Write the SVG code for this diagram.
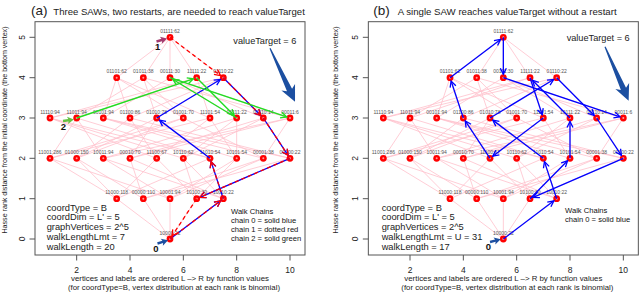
<svg xmlns="http://www.w3.org/2000/svg" xmlns:xlink="http://www.w3.org/1999/xlink" width="640" height="292" viewBox="0 0 640 292">
<style>
.edge{fill:none;stroke:#ffc0cb;stroke-width:0.8}
.vl{font-family:"Liberation Sans",Arial,sans-serif;font-size:5px;fill:#555;text-anchor:middle}
.box{fill:none;stroke:#555;stroke-width:1}
.tick{stroke:#555;stroke-width:1}
.t{font-family:"Liberation Sans",Arial,sans-serif;fill:#222}
.ax{font-size:8.5px;text-anchor:middle}
.info{font-size:9.3px}
.wc{font-size:7.6px;fill:#111}
.num{font-size:9.5px;font-weight:bold;fill:#111}
.blue{fill:none;stroke:#0000ff;stroke-width:1.3;marker-end:url(#mb)}
.red{fill:none;stroke:#ff0000;stroke-width:1.3;stroke-dasharray:4 3;marker-end:url(#mr)}
.green{fill:none;stroke:#22dd22;stroke-width:1.4;marker-end:url(#mg)}
</style>
<defs>
<marker id="mb" markerUnits="userSpaceOnUse" markerWidth="10" markerHeight="10" refX="6" refY="3" orient="auto" overflow="visible"><path d="M0,0L6,3L0,6" fill="none" stroke="#0000ff" stroke-width="1.3"/></marker>
<marker id="mr" markerUnits="userSpaceOnUse" markerWidth="10" markerHeight="10" refX="6" refY="3" orient="auto" overflow="visible"><path d="M0,0L6,3L0,6" fill="none" stroke="#ff0000" stroke-width="1.3"/></marker>
<marker id="mg" markerUnits="userSpaceOnUse" markerWidth="10" markerHeight="10" refX="6" refY="3" orient="auto" overflow="visible"><path d="M0,0L6,3L0,6" fill="none" stroke="#22dd22" stroke-width="1.4"/></marker>
<g id="dot"><circle r="3.4" fill="#ff0000"/><circle r="1" fill="#ff9a9a"/></g>
<path id="bigArrow" d="M0,-0.6L46,-2.8L43,-7.5L59,0L43,7.5L46,2.8L0,0.6Z" fill="#1c4fa1"/>
<path id="smallArrow" d="M0,-1.2L5.5,-1.2L4.5,-3.6L11,0L4.5,3.6L5.5,1.2L0,1.2Z"/>
<path id="hasse" class="edge" d="M170,239L116.67,198.7M170,239L143.33,198.7M170,239L170,198.7M170,239L196.67,198.7M170,239L223.33,198.7M116.67,198.7L76.67,158.3M116.67,198.7L156.67,158.3M116.67,198.7L210,158.3M116.67,198.7L50,158.3M143.33,198.7L76.67,158.3M143.33,198.7L290,158.3M143.33,198.7L130,158.3M143.33,198.7L263.33,158.3M170,198.7L263.33,158.3M170,198.7L50,158.3M170,198.7L236.67,158.3M170,198.7L103.33,158.3M196.67,198.7L290,158.3M196.67,198.7L156.67,158.3M196.67,198.7L183.33,158.3M196.67,198.7L236.67,158.3M223.33,198.7L130,158.3M223.33,198.7L210,158.3M223.33,198.7L183.33,158.3M223.33,198.7L103.33,158.3M76.67,158.3L130,118M76.67,158.3L156.67,118M76.67,158.3L183.33,118M290,158.3L130,118M290,158.3L263.33,118M290,158.3L103.33,118M130,158.3L156.67,118M130,158.3L263.33,118M130,158.3L290,118M263.33,158.3L183.33,118M263.33,158.3L103.33,118M263.33,158.3L290,118M156.67,158.3L130,118M156.67,158.3L50,118M156.67,158.3L210,118M210,158.3L156.67,118M210,158.3L50,118M210,158.3L76.67,118M50,158.3L183.33,118M50,158.3L210,118M50,158.3L76.67,118M183.33,158.3L263.33,118M183.33,158.3L50,118M183.33,158.3L236.67,118M236.67,158.3L103.33,118M236.67,158.3L210,118M236.67,158.3L236.67,118M103.33,158.3L290,118M103.33,158.3L76.67,118M103.33,158.3L236.67,118M223.33,77.7L130,118M223.33,77.7L156.67,118M223.33,77.7L263.33,118M223.33,77.7L50,118M116.67,77.7L130,118M116.67,77.7L183.33,118M116.67,77.7L103.33,118M116.67,77.7L210,118M143.33,77.7L156.67,118M143.33,77.7L183.33,118M143.33,77.7L290,118M143.33,77.7L76.67,118M170,77.7L263.33,118M170,77.7L103.33,118M170,77.7L290,118M170,77.7L236.67,118M196.67,77.7L50,118M196.67,77.7L210,118M196.67,77.7L76.67,118M196.67,77.7L236.67,118M170,37.3L116.67,77.7M170,37.3L143.33,77.7M170,37.3L170,77.7M170,37.3L196.67,77.7M170,37.3L223.33,77.7"/>
<g id="axes">
<rect class="box" x="35" y="21.7" width="270" height="233.3"/>
<path class="tick" d="M29.5,239H35M29.5,198.7H35M29.5,158.3H35M29.5,118H35M29.5,77.7H35M29.5,37.3H35M76.67,255V260.5M130,255V260.5M183.33,255V260.5M236.67,255V260.5M290,255V260.5"/>
<g class="t ax">
<text transform="translate(24.5,239) rotate(-90)">0</text>
<text transform="translate(24.5,198.7) rotate(-90)">1</text>
<text transform="translate(24.5,158.3) rotate(-90)">2</text>
<text transform="translate(24.5,118) rotate(-90)">3</text>
<text transform="translate(24.5,77.7) rotate(-90)">4</text>
<text transform="translate(24.5,37.3) rotate(-90)">5</text>
<text x="76.67" y="272.5">2</text>
<text x="130" y="272.5">4</text>
<text x="183.33" y="272.5">6</text>
<text x="236.67" y="272.5">8</text>
<text x="290" y="272.5">10</text>
<text x="170" y="281" font-size="7.5" textLength="198" lengthAdjust="spacingAndGlyphs">vertices and labels are ordered L –&gt; R by function values</text>
<text x="174" y="290" font-size="7.5" textLength="212" lengthAdjust="spacingAndGlyphs">(for coordType=B, vertex distribution at each rank is binomial)</text>
</g>
</g>
</defs>

<g id="panel-a">
<text class="t" x="31" y="15" font-size="13.5">(a)</text>
<text class="t" x="53.3" y="15" font-size="9.3" textLength="251.5" lengthAdjust="spacingAndGlyphs">Three SAWs, two restarts, are needed to reach valueTarget</text>
<text class="t" transform="translate(7,130) rotate(-90)" font-size="7" text-anchor="middle" textLength="207" lengthAdjust="spacingAndGlyphs">Hasse rank distance from the initial coordinate (the bottom vertex)</text>
<use href="#axes"/>
<g id="edges-a"><use href="#hasse"/></g>
<g id="nodes-a">
<g id="a-01111"><use href="#dot" x="170" y="37.3"/><text class="vl" x="170" y="32.8">01111:62</text></g>
<g id="a-01101"><use href="#dot" x="116.67" y="77.7"/><text class="vl" x="116.67" y="73.2">01101:62</text></g>
<g id="a-01011"><use href="#dot" x="143.33" y="77.7"/><text class="vl" x="143.33" y="73.2">01011:38</text></g>
<g id="a-00111"><use href="#dot" x="170" y="77.7"/><text class="vl" x="170" y="73.2">00111:30</text></g>
<g id="a-11111"><use href="#dot" x="196.67" y="77.7"/><text class="vl" x="196.67" y="73.2">11111:22</text></g>
<g id="a-01110"><use href="#dot" x="223.33" y="77.7"/><text class="vl" x="223.33" y="73.2">01110:22</text></g>
<g id="a-11110"><use href="#dot" x="50" y="118"/><text class="vl" x="50" y="113.5">11110:94</text></g>
<g id="a-11011"><use href="#dot" x="76.67" y="118"/><text class="vl" x="76.67" y="113.5">11011:94</text></g>
<g id="a-00101"><use href="#dot" x="103.33" y="118"/><text class="vl" x="103.33" y="113.5">00101:94</text></g>
<g id="a-01100"><use href="#dot" x="130" y="118"/><text class="vl" x="130" y="113.5">01100:86</text></g>
<g id="a-01010"><use href="#dot" x="156.67" y="118"/><text class="vl" x="156.67" y="113.5">01010:78</text></g>
<g id="a-01001"><use href="#dot" x="183.33" y="118"/><text class="vl" x="183.33" y="113.5">01001:70</text></g>
<g id="a-11101"><use href="#dot" x="210" y="118"/><text class="vl" x="210" y="113.5">11101:54</text></g>
<g id="a-10111"><use href="#dot" x="236.67" y="118"/><text class="vl" x="236.67" y="113.5">10111:22</text></g>
<g id="a-00110"><use href="#dot" x="263.33" y="118"/><text class="vl" x="263.33" y="113.5">00110:14</text></g>
<g id="a-00011"><use href="#dot" x="290" y="118"/><text class="vl" x="290" y="113.5">00011:6</text></g>
<g id="a-11001"><use href="#dot" x="50" y="158.3"/><text class="vl" x="50" y="153.8">11001:286</text></g>
<g id="a-01000"><use href="#dot" x="76.67" y="158.3"/><text class="vl" x="76.67" y="153.8">01000:150</text></g>
<g id="a-10011"><use href="#dot" x="103.33" y="158.3"/><text class="vl" x="103.33" y="153.8">10011:94</text></g>
<g id="a-00010"><use href="#dot" x="130" y="158.3"/><text class="vl" x="130" y="153.8">00010:70</text></g>
<g id="a-11100"><use href="#dot" x="156.67" y="158.3"/><text class="vl" x="156.67" y="153.8">11100:67</text></g>
<g id="a-10110"><use href="#dot" x="183.33" y="158.3"/><text class="vl" x="183.33" y="153.8">10110:62</text></g>
<g id="a-11010"><use href="#dot" x="210" y="158.3"/><text class="vl" x="210" y="153.8">11010:54</text></g>
<g id="a-10101"><use href="#dot" x="236.67" y="158.3"/><text class="vl" x="236.67" y="153.8">10101:54</text></g>
<g id="a-00001"><use href="#dot" x="263.33" y="158.3"/><text class="vl" x="263.33" y="153.8">00001:38</text></g>
<g id="a-00100"><use href="#dot" x="290" y="158.3"/><text class="vl" x="290" y="153.8">00100:22</text></g>
<g id="a-11000"><use href="#dot" x="116.67" y="198.7"/><text class="vl" x="116.67" y="194.2">11000:118</text></g>
<g id="a-00000"><use href="#dot" x="143.33" y="198.7"/><text class="vl" x="143.33" y="194.2">00000:110</text></g>
<g id="a-10001"><use href="#dot" x="170" y="198.7"/><text class="vl" x="170" y="194.2">10001:94</text></g>
<g id="a-10100"><use href="#dot" x="196.67" y="198.7"/><text class="vl" x="196.67" y="194.2">10100:30</text></g>
<g id="a-10010"><use href="#dot" x="223.33" y="198.7"/><text class="vl" x="223.33" y="194.2">10010:22</text></g>
<g id="a-10000"><use href="#dot" x="170" y="239"/><text class="vl" x="170" y="234.5">10000:22</text></g>
</g>
<g id="walks-a">
<path class="blue" d="M170,239L220.54,200.81"/>
<path class="blue" d="M223.33,198.7L211.1,161.62"/>
<path class="blue" d="M210,158.3L159.46,120.11"/>
<path class="blue" d="M156.67,118L220.33,79.51"/>
<path class="blue" d="M223.33,77.7L260.87,115.52"/>
<path class="blue" d="M263.33,118L288.07,155.38"/>
<path class="blue" d="M290,158.3L199.88,197.31"/>
<path class="red" d="M170,37.3L220.54,75.59"/>
<path class="red" d="M223.33,77.7L260.87,115.52"/>
<path class="red" d="M263.33,118L288.07,155.38"/>
<path class="red" d="M290,158.3L199.88,197.31"/>
<path class="red" d="M196.67,198.7L171.93,236.08"/>
<path class="red" d="M170,239L220.54,200.81"/>
<path class="red" d="M223.33,198.7L211.1,161.62"/>
<path class="green" d="M76.67,118L193.35,78.81"/>
<path class="green" d="M196.67,77.7L234.21,115.52"/>
<path class="green" d="M236.67,118L173,79.51"/>
<path class="green" d="M170,77.7L286.68,116.89"/>
</g>
<g id="notes-a">
<text class="t" x="233.3" y="43.5" font-size="9.2">valueTarget = 6</text>
<use href="#bigArrow" transform="translate(270,48.3) rotate(64.9)"/>
<use href="#smallArrow" fill="#a33a6e" transform="translate(156.5,41.5) rotate(-16)"/>
<text class="t num" x="157.7" y="50" text-anchor="middle">1</text>
<use href="#smallArrow" fill="#66c040" transform="translate(63,121) rotate(-8)"/>
<text class="t num" x="63.3" y="130" text-anchor="middle">2</text>
<use href="#smallArrow" fill="#1c4fa1" transform="translate(157.5,243.5) rotate(-17)"/>
<text class="t num" x="156" y="251.5" text-anchor="middle">0</text>
<g class="t info">
<text x="46.7" y="210.5">coordType = B</text>
<text x="46.7" y="220">coordDim = L' = 5</text>
<text x="46.7" y="229.7">graphVertices = 2^5</text>
<text x="46.7" y="240">walkLengthLmt = 7</text>
<text x="46.7" y="250.3">walkLength = 20</text>
</g>
<g class="t wc">
<text x="231" y="213.5">Walk Chains</text>
<text x="231" y="222.5">chain 0 = solid blue</text>
<text x="231" y="231.5">chain 1 = dotted red</text>
<text x="231" y="240.8">chain 2 = solid green</text>
</g>
</g>
</g>

<g id="panel-b" transform="translate(333.333,0)">
<text class="t" x="40" y="15" font-size="13.5">(b)</text>
<text class="t" x="64.3" y="15" font-size="9.3" textLength="219" lengthAdjust="spacingAndGlyphs">A single SAW reaches valueTarget without a restart</text>
<text class="t" transform="translate(5,130) rotate(-90)" font-size="7" text-anchor="middle" textLength="207" lengthAdjust="spacingAndGlyphs">Hasse rank distance from the initial coordinate (the bottom vertex)</text>
<use href="#axes"/>
<g id="edges-b"><use href="#hasse"/></g>
<g id="nodes-b">
<g id="b-01111"><use href="#dot" x="170" y="37.3"/><text class="vl" x="170" y="32.8">01111:62</text></g>
<g id="b-01101"><use href="#dot" x="116.67" y="77.7"/><text class="vl" x="116.67" y="73.2">01101:62</text></g>
<g id="b-01011"><use href="#dot" x="143.33" y="77.7"/><text class="vl" x="143.33" y="73.2">01011:38</text></g>
<g id="b-00111"><use href="#dot" x="170" y="77.7"/><text class="vl" x="170" y="73.2">00111:30</text></g>
<g id="b-11111"><use href="#dot" x="196.67" y="77.7"/><text class="vl" x="196.67" y="73.2">11111:22</text></g>
<g id="b-01110"><use href="#dot" x="223.33" y="77.7"/><text class="vl" x="223.33" y="73.2">01110:22</text></g>
<g id="b-11110"><use href="#dot" x="50" y="118"/><text class="vl" x="50" y="113.5">11110:94</text></g>
<g id="b-11011"><use href="#dot" x="76.67" y="118"/><text class="vl" x="76.67" y="113.5">11011:94</text></g>
<g id="b-00101"><use href="#dot" x="103.33" y="118"/><text class="vl" x="103.33" y="113.5">00101:94</text></g>
<g id="b-01100"><use href="#dot" x="130" y="118"/><text class="vl" x="130" y="113.5">01100:86</text></g>
<g id="b-01010"><use href="#dot" x="156.67" y="118"/><text class="vl" x="156.67" y="113.5">01010:78</text></g>
<g id="b-01001"><use href="#dot" x="183.33" y="118"/><text class="vl" x="183.33" y="113.5">01001:70</text></g>
<g id="b-11101"><use href="#dot" x="210" y="118"/><text class="vl" x="210" y="113.5">11101:54</text></g>
<g id="b-10111"><use href="#dot" x="236.67" y="118"/><text class="vl" x="236.67" y="113.5">10111:22</text></g>
<g id="b-00110"><use href="#dot" x="263.33" y="118"/><text class="vl" x="263.33" y="113.5">00110:14</text></g>
<g id="b-00011"><use href="#dot" x="290" y="118"/><text class="vl" x="290" y="113.5">00011:6</text></g>
<g id="b-11001"><use href="#dot" x="50" y="158.3"/><text class="vl" x="50" y="153.8">11001:286</text></g>
<g id="b-01000"><use href="#dot" x="76.67" y="158.3"/><text class="vl" x="76.67" y="153.8">01000:150</text></g>
<g id="b-10011"><use href="#dot" x="103.33" y="158.3"/><text class="vl" x="103.33" y="153.8">10011:94</text></g>
<g id="b-00010"><use href="#dot" x="130" y="158.3"/><text class="vl" x="130" y="153.8">00010:70</text></g>
<g id="b-11100"><use href="#dot" x="156.67" y="158.3"/><text class="vl" x="156.67" y="153.8">11100:67</text></g>
<g id="b-10110"><use href="#dot" x="183.33" y="158.3"/><text class="vl" x="183.33" y="153.8">10110:62</text></g>
<g id="b-11010"><use href="#dot" x="210" y="158.3"/><text class="vl" x="210" y="153.8">11010:54</text></g>
<g id="b-10101"><use href="#dot" x="236.67" y="158.3"/><text class="vl" x="236.67" y="153.8">10101:54</text></g>
<g id="b-00001"><use href="#dot" x="263.33" y="158.3"/><text class="vl" x="263.33" y="153.8">00001:38</text></g>
<g id="b-00100"><use href="#dot" x="290" y="158.3"/><text class="vl" x="290" y="153.8">00100:22</text></g>
<g id="b-11000"><use href="#dot" x="116.67" y="198.7"/><text class="vl" x="116.67" y="194.2">11000:118</text></g>
<g id="b-00000"><use href="#dot" x="143.33" y="198.7"/><text class="vl" x="143.33" y="194.2">00000:110</text></g>
<g id="b-10001"><use href="#dot" x="170" y="198.7"/><text class="vl" x="170" y="194.2">10001:94</text></g>
<g id="b-10100"><use href="#dot" x="196.67" y="198.7"/><text class="vl" x="196.67" y="194.2">10100:30</text></g>
<g id="b-10010"><use href="#dot" x="223.33" y="198.7"/><text class="vl" x="223.33" y="194.2">10010:22</text></g>
<g id="b-10000"><use href="#dot" x="170" y="239"/><text class="vl" x="170" y="234.5">10000:22</text></g>
</g>
<g id="walks-b">
<path class="blue" d="M170,239L220.54,200.81"/>
<path class="blue" d="M223.33,198.7L211.1,161.62"/>
<path class="blue" d="M210,158.3L159.46,120.11"/>
<path class="blue" d="M156.67,118L220.33,79.51"/>
<path class="blue" d="M223.33,77.7L260.87,115.52"/>
<path class="blue" d="M263.33,118L288.07,155.38"/>
<path class="blue" d="M290,158.3L199.88,197.31"/>
<path class="blue" d="M196.67,198.7L234.21,160.79"/>
<path class="blue" d="M236.67,158.3L236.67,121.5"/>
<path class="blue" d="M236.67,118L199.13,80.18"/>
<path class="blue" d="M196.67,77.7L208.9,114.68"/>
<path class="blue" d="M210,118L159.46,156.19"/>
<path class="blue" d="M156.67,158.3L131.93,120.92"/>
<path class="blue" d="M130,118L117.77,81.02"/>
<path class="blue" d="M116.67,77.7L167.21,39.41"/>
<path class="blue" d="M170,37.3L170,74.2"/>
<path class="blue" d="M170,77.7L286.68,116.89"/>
</g>
<g id="notes-b">
<text class="t" x="233.3" y="41" font-size="9.2">valueTarget = 6</text>
<use href="#bigArrow" transform="translate(271.7,46.7) rotate(66.4)"/>
<use href="#smallArrow" fill="#1c4fa1" transform="translate(156.7,242) rotate(-14)"/>
<text class="t num" x="155" y="249.5" text-anchor="middle">0</text>
<g class="t info">
<text x="48.3" y="210.5">coordType = B</text>
<text x="48.3" y="220">coordDim = L' = 5</text>
<text x="48.3" y="229.7">graphVertices = 2^5</text>
<text x="48.3" y="240">walkLengthLmt = U = 31</text>
<text x="48.3" y="250.3">walkLength = 17</text>
</g>
<g class="t wc">
<text x="231.7" y="212.5">Walk Chains</text>
<text x="231.7" y="221.8">chain 0 = solid blue</text>
</g>
</g>
</g>
</svg>
